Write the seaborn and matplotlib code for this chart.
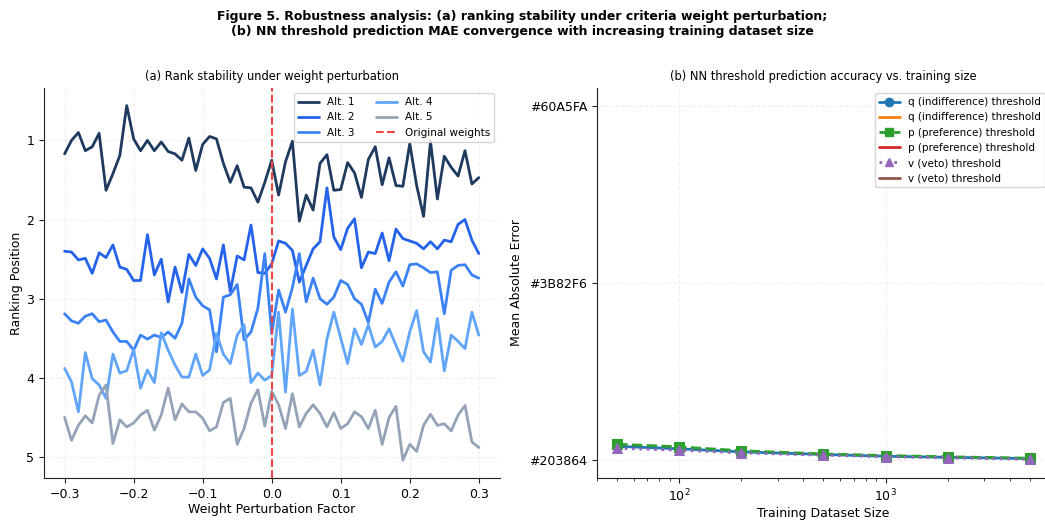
import numpy as np
import matplotlib.pyplot as plt
from matplotlib.lines import Line2D
import seaborn as sns

# =========================
# DATA
# =========================
perturbation = np.linspace(-0.3, 0.3, 61)

alt_names = ["Alt. 1", "Alt. 2", "Alt. 3", "Alt. 4", "Alt. 5"]
alt_colors = ["#1E3A5F", "#2563EB", "#3B82F6", "#60A5FA", "#94A3B8"]

alt1 = [1.17, 1.00, 0.90, 1.13, 1.08, 0.91, 1.63, 1.42, 1.19, 0.56,
        0.98, 1.13, 1.00, 1.13, 1.02, 1.14, 1.17, 1.25, 0.97, 1.38,
        1.05, 0.95, 0.98, 1.29, 1.53, 1.32, 1.59, 1.60, 1.78, 1.53,
        1.25, 1.69, 1.27, 1.01, 2.02, 1.69, 1.88, 1.29, 1.18, 1.63,
        1.62, 1.28, 1.41, 1.72, 1.24, 1.08, 1.56, 1.22, 1.57, 1.58,
        1.04, 1.57, 1.96, 1.01, 1.74, 1.20, 1.34, 1.45, 1.13, 1.55,
        1.47]
alt2 = [2.40, 2.41, 2.51, 2.49, 2.68, 2.42, 2.48, 2.32, 2.60, 2.63,
        2.77, 2.77, 2.19, 2.70, 2.50, 3.04, 2.60, 2.92, 2.44, 2.58,
        2.37, 2.49, 2.75, 2.32, 2.91, 2.46, 2.51, 2.07, 2.67, 2.68,
        2.56, 2.27, 2.30, 2.39, 2.79, 2.58, 2.37, 2.28, 1.60, 2.22,
        2.38, 2.11, 1.99, 2.61, 2.41, 2.43, 2.17, 2.52, 2.12, 2.24,
        2.27, 2.30, 2.37, 2.28, 2.37, 2.26, 2.28, 2.06, 2.00, 2.26,
        2.43]
alt3 = [3.19, 3.28, 3.31, 3.22, 3.19, 3.29, 3.27, 3.42, 3.54, 3.54,
        3.65, 3.46, 3.51, 3.46, 3.49, 3.42, 3.50, 3.31, 2.75, 2.98,
        3.09, 3.14, 3.67, 2.98, 2.95, 2.82, 3.52, 3.42, 3.12, 2.43,
        3.44, 2.89, 3.17, 2.86, 2.43, 3.04, 2.74, 3.00, 3.07, 2.98,
        2.77, 2.82, 3.00, 3.07, 3.30, 2.88, 3.06, 2.79, 2.66, 2.84,
        2.57, 2.56, 2.61, 2.67, 2.66, 3.19, 2.64, 2.58, 2.57, 2.70,
        2.74]
alt4 = [3.88, 4.05, 4.43, 3.68, 4.01, 4.09, 4.26, 3.70, 3.94, 3.91,
        3.64, 4.13, 3.90, 4.06, 3.43, 3.65, 3.84, 3.99, 3.99, 3.70,
        3.97, 3.90, 3.44, 3.70, 3.82, 3.46, 3.33, 4.06, 3.94, 4.03,
        3.97, 3.17, 4.18, 3.13, 3.97, 3.92, 3.65, 4.09, 3.51, 3.17,
        3.50, 3.82, 3.38, 3.58, 3.33, 3.61, 3.54, 3.38, 3.59, 3.79,
        3.42, 3.15, 3.67, 3.80, 3.25, 3.91, 3.46, 3.54, 3.63, 3.17,
        3.46]
alt5 = [4.50, 4.79, 4.60, 4.48, 4.57, 4.22, 4.09, 4.83, 4.53, 4.62,
        4.57, 4.47, 4.41, 4.66, 4.47, 4.13, 4.53, 4.33, 4.43, 4.43,
        4.51, 4.67, 4.62, 4.31, 4.26, 4.84, 4.64, 4.32, 4.15, 4.61,
        4.17, 4.34, 4.64, 4.20, 4.62, 4.45, 4.34, 4.45, 4.62, 4.44,
        4.64, 4.58, 4.43, 4.49, 4.64, 4.41, 4.84, 4.50, 4.36, 5.04,
        4.84, 4.93, 4.60, 4.46, 4.60, 4.58, 4.67, 4.47, 4.35, 4.81,
        4.88]
alt_ranks = [alt1, alt2, alt3, alt4, alt5]

train_sizes = [50, 100, 200, 500, 1000, 2000, 5000]
q_mae = [0.078, 0.064, 0.047, 0.032, 0.022, 0.016, 0.009]
p_mae = [0.090, 0.075, 0.053, 0.035, 0.026, 0.019, 0.011]
v_mae = [0.066, 0.056, 0.041, 0.028, 0.019, 0.013, 0.005]

threshold_names = ["q (indifference) threshold", "p (preference) threshold",
                   "v (veto) threshold"]
mae_tick_labels = ["#203864", "#3B82F6", "#60A5FA"]

# =========================
# STYLE
# =========================
sns.set_style("ticks", {"axes.edgecolor": "#222222", "text.color": "black",
                        "axes.labelcolor": "black", "xtick.color": "#222222",
                        "ytick.color": "#222222"})
plt.rcParams["font.family"] = ["DejaVu Sans"]
plt.rcParams["xtick.labelcolor"] = "black"
plt.rcParams["ytick.labelcolor"] = "black"

fig = plt.figure(figsize=(10.45, 5.2), dpi=100)
ax1 = fig.add_axes([0.042, 0.081, 0.436, 0.75])
ax2 = fig.add_axes([0.571, 0.081, 0.434, 0.75])

# =========================
# (a) RANK STABILITY
# =========================
for name, color, ranks in zip(alt_names, alt_colors, alt_ranks):
    sns.lineplot(x=perturbation, y=ranks, ax=ax1, color=color,
                 linewidth=2, label=name)

ax1.axvline(0, color="#EF4444", linestyle="--", linewidth=1.5,
            label="Original weights")
ax1.invert_yaxis()
ax1.set_yticks([1, 2, 3, 4, 5])
ax1.set_title("(a) Rank stability under weight perturbation", fontsize=8.3)
ax1.set_xlabel("Weight Perturbation Factor", fontsize=9, labelpad=2)
ax1.set_ylabel("Ranking Position", fontsize=9, labelpad=2)
ax1.grid(True, linestyle="--", alpha=0.3)
ax1.legend(ncol=2, loc="upper right", fontsize=7.5)
ax1.tick_params(labelsize=9)

# =========================
# (b) NN THRESHOLD MAE
# =========================
styles = [("C0", "o", "-"), ("C2", "s", "--"), ("C4", "^", ":")]
handles = []
extra = ["C1", "C3", "C5"]
for name, mae, (color, marker, ls), c2 in zip(threshold_names,
                                               [q_mae, p_mae, v_mae],
                                               styles, extra):
    sns.lineplot(x=train_sizes, y=mae, ax=ax2, color=color, marker=marker,
                 linestyle=ls, linewidth=2, markersize=6.5,
                 markeredgecolor=color)
    handles.append(Line2D([], [], color=color, marker=marker, linestyle=ls,
                          linewidth=2, markersize=6, label=name))
    handles.append(Line2D([], [], color=c2, linewidth=2, label=name))

ax2.set_xscale("log")
ax2.set_ylim(-0.1, 2.1)
ax2.set_yticks([0, 1, 2])
ax2.set_yticklabels(mae_tick_labels)
ax2.set_title("(b) NN threshold prediction accuracy vs. training size",
              fontsize=8.3)
ax2.set_xlabel("Training Dataset Size", fontsize=9, labelpad=2)
ax2.set_ylabel("Mean Absolute Error", fontsize=9)
ax2.grid(True, linestyle="--", alpha=0.3)
ax2.legend(handles=handles, loc="upper right", fontsize=7.5)
ax2.tick_params(labelsize=9)

sns.despine(fig=fig)

fig.suptitle("Figure 5. Robustness analysis: (a) ranking stability under criteria weight perturbation;\n"
             "(b) NN threshold prediction MAE convergence with increasing training dataset size",
             fontsize=9, fontweight="bold", y=0.98)

plt.savefig("out.png", dpi=100)
